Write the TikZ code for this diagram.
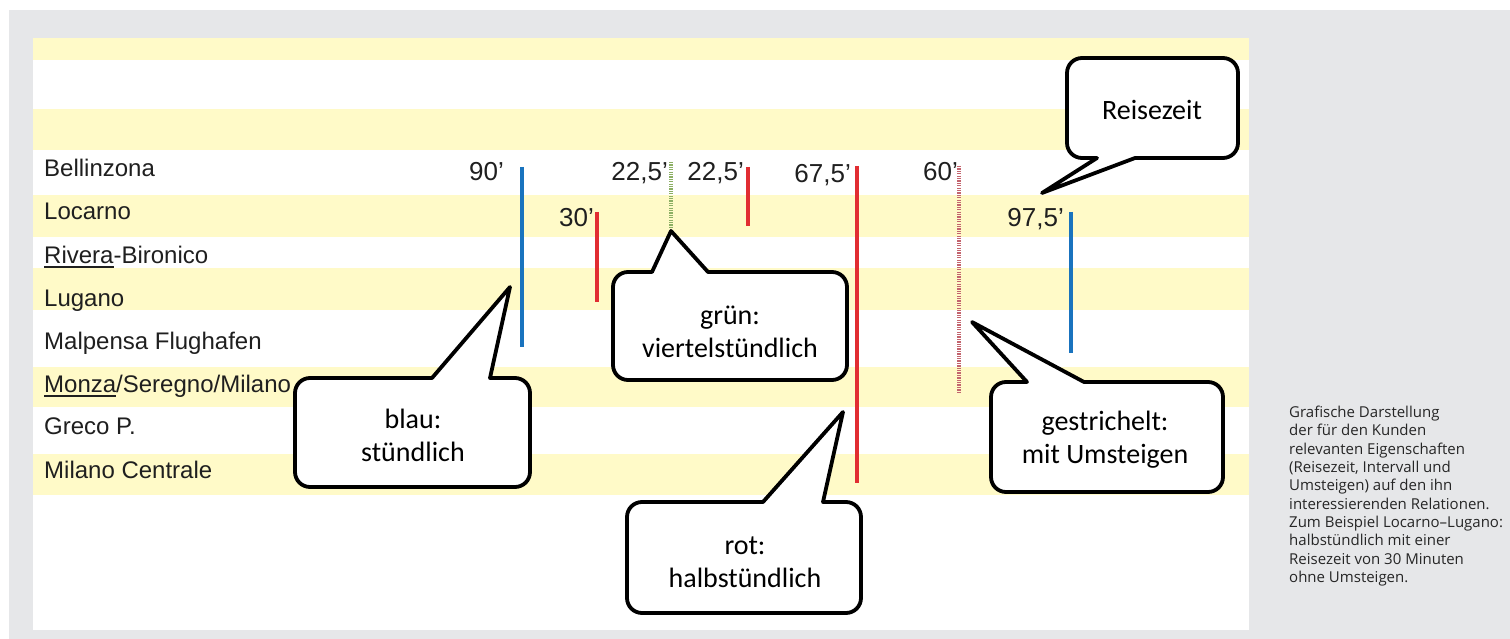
\documentclass[tikz,border=0pt]{standalone}
\usepackage{fontspec}
\setmainfont{Liberation Sans}
\newfontfamily\callfont{Carlito}
\newfontfamily\capfont{Open Sans}
\definecolor{bggray}{RGB}{230,231,233}
\definecolor{bandyellow}{RGB}{255,250,200}
\definecolor{barblue}{RGB}{25,115,190}
\definecolor{barred}{RGB}{225,45,50}
\definecolor{bargreen}{RGB}{140,175,100}
\definecolor{bardash}{RGB}{195,100,110}
\newcommand{\stul}[1]{\setbox0\hbox{#1}\rlap{\rule[-4.5pt]{\wd0}{1.5pt}}\box0}
\begin{document}
\begin{tikzpicture}[x=1pt,y=-1pt,
  station/.style={anchor=base west,inner sep=0pt,font=\fontsize{24}{28}\selectfont,text=black!88},
  minutes/.style={anchor=base east,inner sep=0pt,font=\fontsize{26}{30}\selectfont,text=black!88},
  bar/.style={line width=4pt},
  bluebar/.style={bar,draw=barblue},
  redbar/.style={bar,draw=barred},
  greenbar/.style={bar,draw=bargreen,dash pattern=on 1.3pt off 1.1pt},
  dashbar/.style={bar,draw=bardash,dash pattern=on 1.3pt off 1.1pt},
  callout/.style={draw=black,fill=white,line width=3.8pt,line join=round},
  calltext/.style={align=center,inner sep=0pt,font=\callfont\fontsize{28}{33}\selectfont,text=black},
  captext/.style={align=left,inner sep=0pt,font=\capfont\fontsize{15}{18.3}\selectfont,text=black!85}]
\useasboundingbox (0,0) rectangle (1510,639);
\fill[white] (0,0) rectangle (1510,639);
\fill[bggray] (9,10) rectangle (1510,639);
\fill[white] (33,38) rectangle (1249,630);
% bands
\foreach \a/\b in {38/60,109/150,195/237,268/310,367/407,454/495}
  \fill[bandyellow] (33,\a) rectangle (1249,\b);
% stations
\node[station] (bel) at (44,177) {Bellinzona};
\node[station] (loc) at (44,220) {Locarno};
\node[station] (riv) at (44,263) {\stul{Rivera}-Bironico};
\node[station] (lug) at (44,306) {Lugano};
\node[station] (mal) at (44,349) {Malpensa Flughafen};
\node[station] (mon) at (44,392) {\stul{Monza}/Seregno/Milano};
\node[station] (gre) at (44,434) {Greco P.};
\node[station] (mil) at (44,478) {Milano Centrale};
% travel times
\node[minutes] (m90) at (504,181) {90’};
\node[minutes] (m30) at (594,227) {30’};
\node[minutes] (m22a) at (668,181) {22,5’};
\node[minutes] (m22b) at (744,181) {22,5’};
\node[minutes] (m67) at (851,183) {67,5’};
\node[minutes] (m60) at (958,181) {60’};
\node[minutes] (m97) at (1064,227) {97,5’};
% bars
\draw[bluebar] (522,167) -- (522,347);
\draw[redbar] (597,212) -- (597,302);
\draw[greenbar] (671,162) -- (671,227);
\draw[redbar] (748,167) -- (748,226);
\draw[redbar] (857,166) -- (857,483);
\draw[dashbar] (959,166) -- (959,392);
\draw[bluebar] (1071,212) -- (1071,353);
% callout tips
\coordinate (tipR) at (1042,193);
\coordinate (tipG) at (671,231);
\coordinate (tipB) at (510,287);
\coordinate (tipS) at (972,322);
\coordinate (tipH) at (843,412);
% Reisezeit
\draw[callout] (tipR) -- (1097,158) [rounded corners=15pt] -- (1067,158) -- (1067,58) -- (1238,58) -- (1238,158) [sharp corners] -- (1135,158) -- cycle;
\node[calltext] (tR) at (1152,110) {Reisezeit};
% gruen
\draw[callout] (tipG) -- (708,272) [rounded corners=15pt] -- (847,272) -- (847,380) -- (613,380) -- (613,272) [sharp corners] -- (652,272) -- cycle;
\node[calltext] (tG) at (730,332) {grün:\\viertelstündlich};
% blau
\draw[callout] (tipB) -- (490,378) [rounded corners=15pt] -- (530,378) -- (530,487) -- (295,487) -- (295,378) [sharp corners] -- (432,378) -- cycle;
\node[calltext] (tB) at (413,435) {blau:\\stündlich};
% gestrichelt
\draw[callout] (tipS) -- (1084,382) [rounded corners=15pt] -- (1223,382) -- (1223,492) -- (991,492) -- (991,382) [sharp corners] -- (1027,382) -- cycle;
\node[calltext] (tS) at (1105,440) {gestrichelt:\\mit Umsteigen};
% rot
\draw[callout] (tipH) -- (823,502) [rounded corners=15pt] -- (861,502) -- (861,613) -- (627,613) -- (627,502) [sharp corners] -- (763,502) -- cycle;
\node[calltext] (tH) at (745,562) {rot:\\halbstündlich};
% caption
\node[captext,anchor=north west] (cap) at (1289,406) {Grafische Darstellung\\der für den Kunden\\relevanten Eigenschaften\\(Reisezeit, Intervall und\\Umsteigen) auf den ihn\\interessierenden Relationen.\\Zum Beispiel Locarno–Lugano:\\halbstündlich mit einer\\Reisezeit von 30 Minuten\\ohne Umsteigen.};
\end{tikzpicture}
\end{document}
